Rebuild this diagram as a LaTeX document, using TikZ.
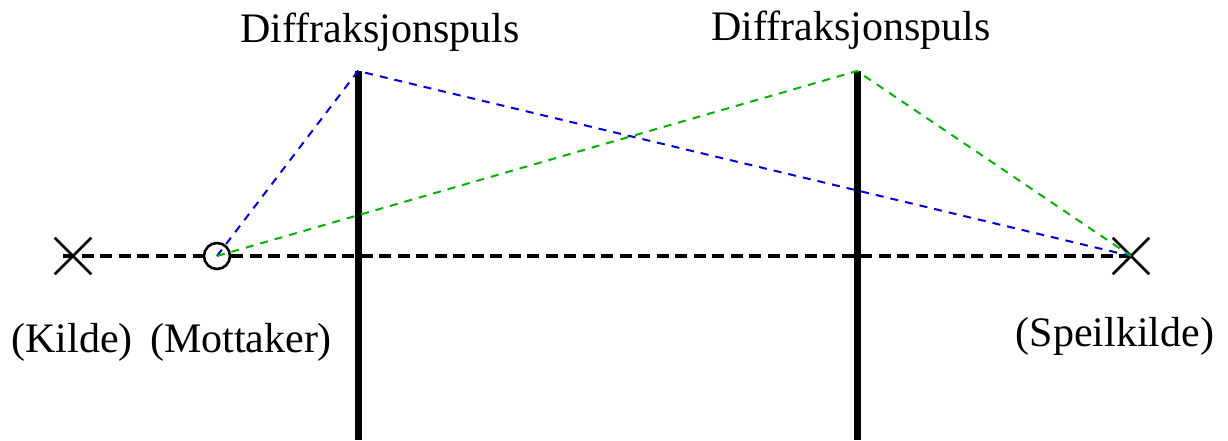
\documentclass[tikz,border=0pt]{standalone}
\usepackage{fontspec}
\setmainfont{Liberation Serif}
\usetikzlibrary{shapes.misc}
\tikzset{
  lbl/.style={font=\fontsize{42}{48}\selectfont, inner sep=0pt},
  src/.style={cross out, draw, line width=2.6pt, minimum size=34pt, inner sep=0pt},
  rcv/.style={circle, draw, line width=2.6pt, minimum size=26pt, inner sep=0pt},
  wall/.style={line width=7pt},
  axis/.style={line width=3.8pt, dash pattern=on 12pt off 6.5pt},
  bray/.style={blue!85!black, line width=2pt, dash pattern=on 8pt off 7pt},
  gray/.style={green!70!black, line width=2pt, dash pattern=on 8pt off 7pt}
}
\begin{document}
\begin{tikzpicture}[x=1pt,y=-1pt]
\useasboundingbox (0,0) rectangle (1228,440);
\coordinate (w1t) at (358,71);
\coordinate (w1b) at (358,440);
\coordinate (w2t) at (857,71);
\coordinate (w2b) at (857,440);
\draw[wall] (w1t) -- (w1b);
\draw[wall] (w2t) -- (w2b);
\node[src] (kilde) at (73,256) {};
\node[rcv] (mott) at (217,256) {};
\node[src] (speil) at (1131,256) {};
\coordinate (axl) at (63,256);
\draw[axis] (axl) -- (mott.west);
\draw[axis] (mott.east) -- (speil.center);
\draw[bray] (mott.center) -- (w1t) -- (speil.center);
\draw[gray] (mott.center) -- (w2t) -- (speil.center);
\node[lbl] (d1) at (380,32) {Diffraksjonspuls};
\node[lbl] (d2) at (851,30) {Diffraksjonspuls};
\node[lbl] (lk) at (72,342) {(Kilde)};
\node[lbl] (lm) at (241,342) {(Mottaker)};
\node[lbl] (ls) at (1115,336) {(Speilkilde)};
\end{tikzpicture}
\end{document}
